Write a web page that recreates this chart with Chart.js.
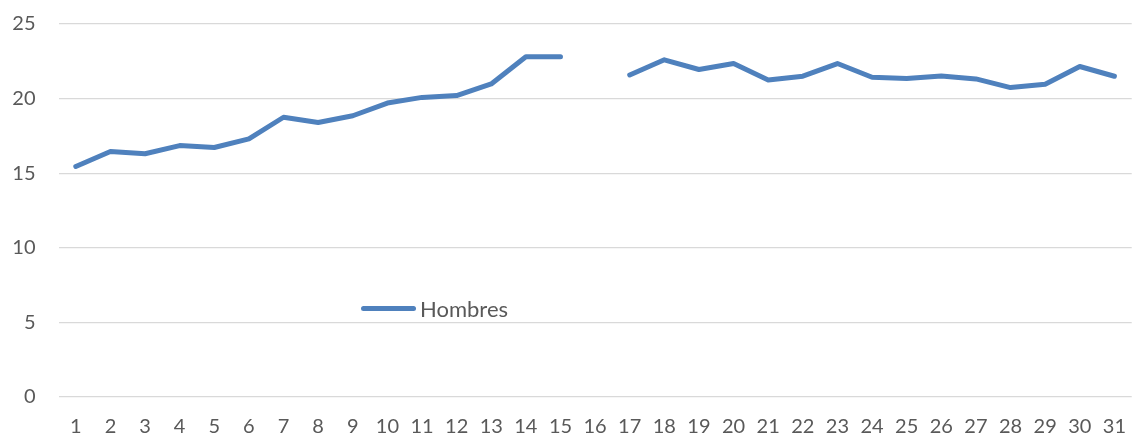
<!DOCTYPE html>
<html>
<head>
<meta charset="utf-8">
<script src="https://cdn.jsdelivr.net/npm/chart.js@4/dist/chart.umd.min.js"></script>
<style>
  html, body { margin: 0; padding: 0; background: #fff; }
  #wrap { position: relative; width: 1144px; height: 437px; }
  canvas { display: block; }
  #legend { position: absolute; left: 361px; top: 296px; height: 24px; line-height: 24px; font: 22px Lato, sans-serif; color: #595959; display: flex; align-items: center; }
  #legend span.swatch { display: inline-block; width: 55px; height: 5px; border-radius: 3px; margin-right: 4px; }
</style>
</head>
<body>
<div id="wrap">
  <canvas id="chart" width="1144" height="437"></canvas>
  <div id="legend"></div>
</div>
<script>
// dias del mes
const dias = ['1','2','3','4','5','6','7','8','9','10','11','12','13','14','15','16',
  '17','18','19','20','21','22','23','24','25','26','27','28','29','30','31'];

// serie Hombres (el dia 16 sin dato)
const hombres = [15.45, 16.45, 16.3, 16.85, 16.72, 17.3, 18.75, 18.4, 18.85, 19.7,
  20.08, 20.2, 20.98, 22.8, 22.8, null,
  21.58, 22.6, 21.95, 22.35, 21.25, 21.5, 22.35, 21.43, 21.34, 21.52, 21.32, 20.74, 20.96, 22.15, 21.5];

const yTicks = [0, 5, 10, 15, 20, 25];

const azul = '#4F81BD';
const gris = '#595959';

const ctx = document.getElementById('chart').getContext('2d');
const chart = new Chart(ctx, {
  type: 'line',
  data: {
    labels: dias,
    datasets: [{
      label: 'Hombres',
      data: hombres,
      borderColor: azul,
      backgroundColor: azul,
      borderWidth: 5,
      borderCapStyle: 'round',
      borderJoinStyle: 'round',
      pointRadius: 0,
      tension: 0,
      spanGaps: false
    }]
  },
  options: {
    responsive: false,
    animation: false,
    layout: { padding: { top: 24, right: 0, left: 0, bottom: 0 } },
    plugins: {
      legend: { display: false },
      tooltip: { enabled: false }
    },
    scales: {
      x: {
        offset: true,
        grid: { display: false, drawTicks: false },
        border: { display: false },
        ticks: { color: gris, font: { family: 'Lato', size: 20 }, padding: 18, maxRotation: 0, autoSkip: false },
        afterFit: scale => { scale.height = 40; }
      },
      y: {
        min: 0,
        max: 25,
        afterBuildTicks: scale => { scale.ticks = yTicks.map(v => ({ value: v })); },
        grid: { color: '#d9d9d9', lineWidth: 1.3, drawTicks: false },
        border: { display: false },
        ticks: { color: gris, font: { family: 'Lato', size: 20 }, padding: 23 },
        afterFit: scale => {
          scale.width = 58.5;
          scale.paddingTop = 0;
          scale.paddingBottom = 0;
        }
      }
    }
  }
});

// leyenda dentro del area del grafico
const legendEl = document.getElementById('legend');
chart.data.datasets.forEach(ds => {
  legendEl.innerHTML += `<span class="swatch" style="background:${ds.borderColor}"></span><span>${ds.label}</span>`;
});
</script>
</body>
</html>
